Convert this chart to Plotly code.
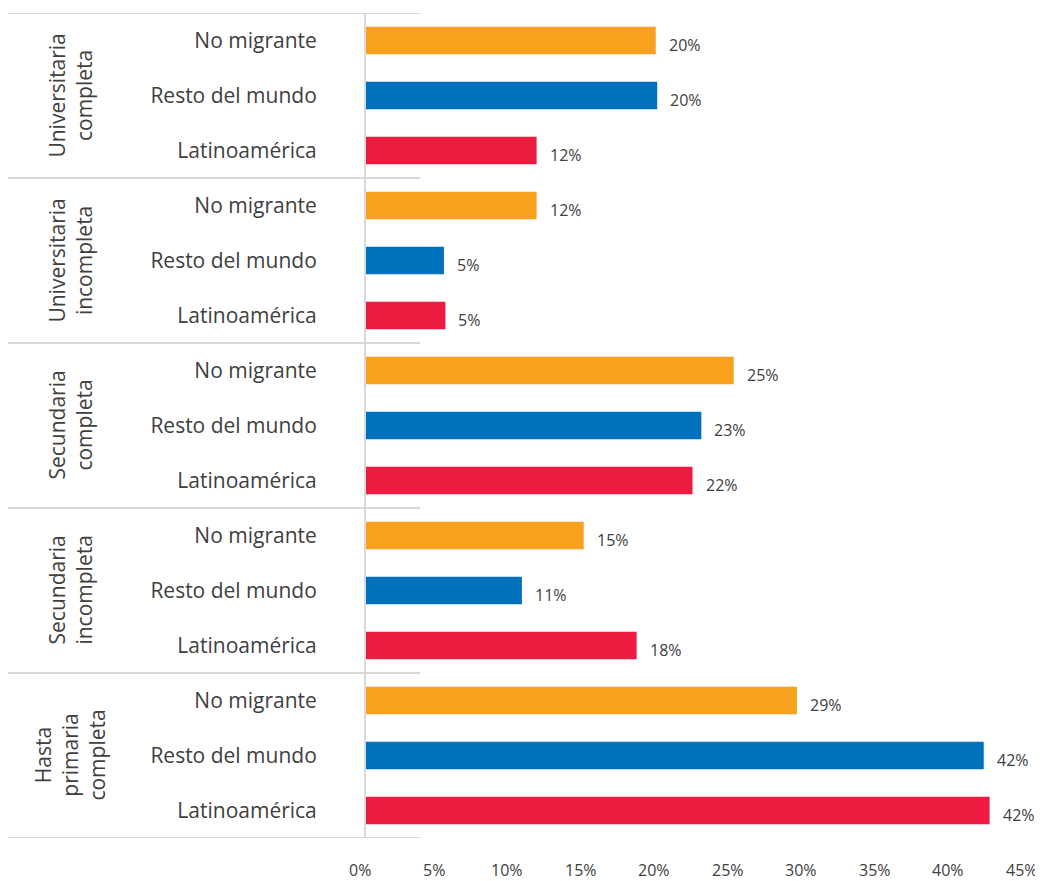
import plotly.graph_objects as go

groups = ["Universitaria<br>completa", "Universitaria<br>incompleta", "Secundaria<br>completa",
          "Secundaria<br>incompleta", "Hasta<br>primaria<br>completa"]
origins = ["No migrante", "Resto del mundo", "Latinoamérica"]
colors = {"No migrante": "#F7A11E", "Resto del mundo": "#0071BD", "Latinoamérica": "#EE1B41"}

# values per group (top to bottom), per origin
no_migrante = [0.197, 0.116, 0.250, 0.148, 0.293]
resto_mundo = [0.198, 0.053, 0.228, 0.106, 0.420]
latinoamerica = [0.116, 0.054, 0.222, 0.184, 0.424]
series = {"No migrante": no_migrante, "Resto del mundo": resto_mundo, "Latinoamérica": latinoamerica}
x_ticks = [0, 0.05, 0.10, 0.15, 0.20, 0.25, 0.30, 0.35, 0.40, 0.45]
x_tick_labels = ["0%", "5%", "10%", "15%", "20%", "25%", "30%", "35%", "40%", "45%"]

n_o = len(origins)
fig = go.Figure()
tickvals, ticktext = [], []
for j, o in enumerate(origins):
    ys = [g * n_o + j for g in range(len(groups))]
    fig.add_trace(go.Bar(
        x=series[o], y=ys, orientation="h", width=0.5,
        marker=dict(color=colors[o], line=dict(width=0)),
        name=o, showlegend=False, hoverinfo="x"))
    for x, y in zip(series[o], ys):
        fig.add_annotation(x=x, y=y, xref="x", yref="y", text=f"{round(x * 100)}%",
                           showarrow=False, xanchor="left", yanchor="middle",
                           xshift=11, yshift=-4, font=dict(size=16, color="#404040"))
for g in range(len(groups)):
    for j, o in enumerate(origins):
        tickvals.append(g * n_o + j)
        ticktext.append(o)

# x-axis tick labels (slightly left of the tick position, as in the original)
for xv, lab in zip(x_ticks, x_tick_labels):
    fig.add_annotation(x=xv, y=0, xref="x", yref="paper", text=lab, showarrow=False,
                       xanchor="center", yanchor="middle", xshift=-6, yshift=-32,
                       font=dict(size=16, color="#404040"))

total = len(groups) * n_o
line_x0, line_x1 = -0.541, 0.082
for g in range(len(groups) + 1):
    yb = g * n_o - 0.5
    fig.add_shape(type="line", xref="paper", yref="y", x0=line_x0, x1=line_x1, y0=yb, y1=yb,
                  line=dict(color="#D9D9D9", width=2), layer="below")
for g, name in enumerate(groups):
    fig.add_annotation(xref="paper", yref="y", x=-0.447, y=g * n_o + (n_o - 1) / 2,
                       text=name, textangle=-90, showarrow=False,
                       font=dict(size=21, color="#404040"), xanchor="center", yanchor="middle")

fig.update_layout(
    width=1035, height=873,
    margin=dict(l=358, r=15, t=5, b=43),
    paper_bgcolor="white", plot_bgcolor="white",
    barmode="overlay",
    font=dict(family="Open Sans", color="#404040"),
    xaxis=dict(range=[0, 0.4501], tickvals=x_ticks, showticklabels=False,
               showgrid=False, zeroline=False, automargin=False,
               showline=False, ticks=""),
    yaxis=dict(tickmode="array", tickvals=tickvals, ticktext=ticktext, automargin=False,
               range=[total - 0.5, -0.5], showgrid=False, zeroline=False,
               showline=True, linecolor="#D9D9D9", linewidth=2, ticks="",
               tickfont=dict(size=21, color="#404040"), ticklabelstandoff=43),
)
fig.write_html("out.html")
